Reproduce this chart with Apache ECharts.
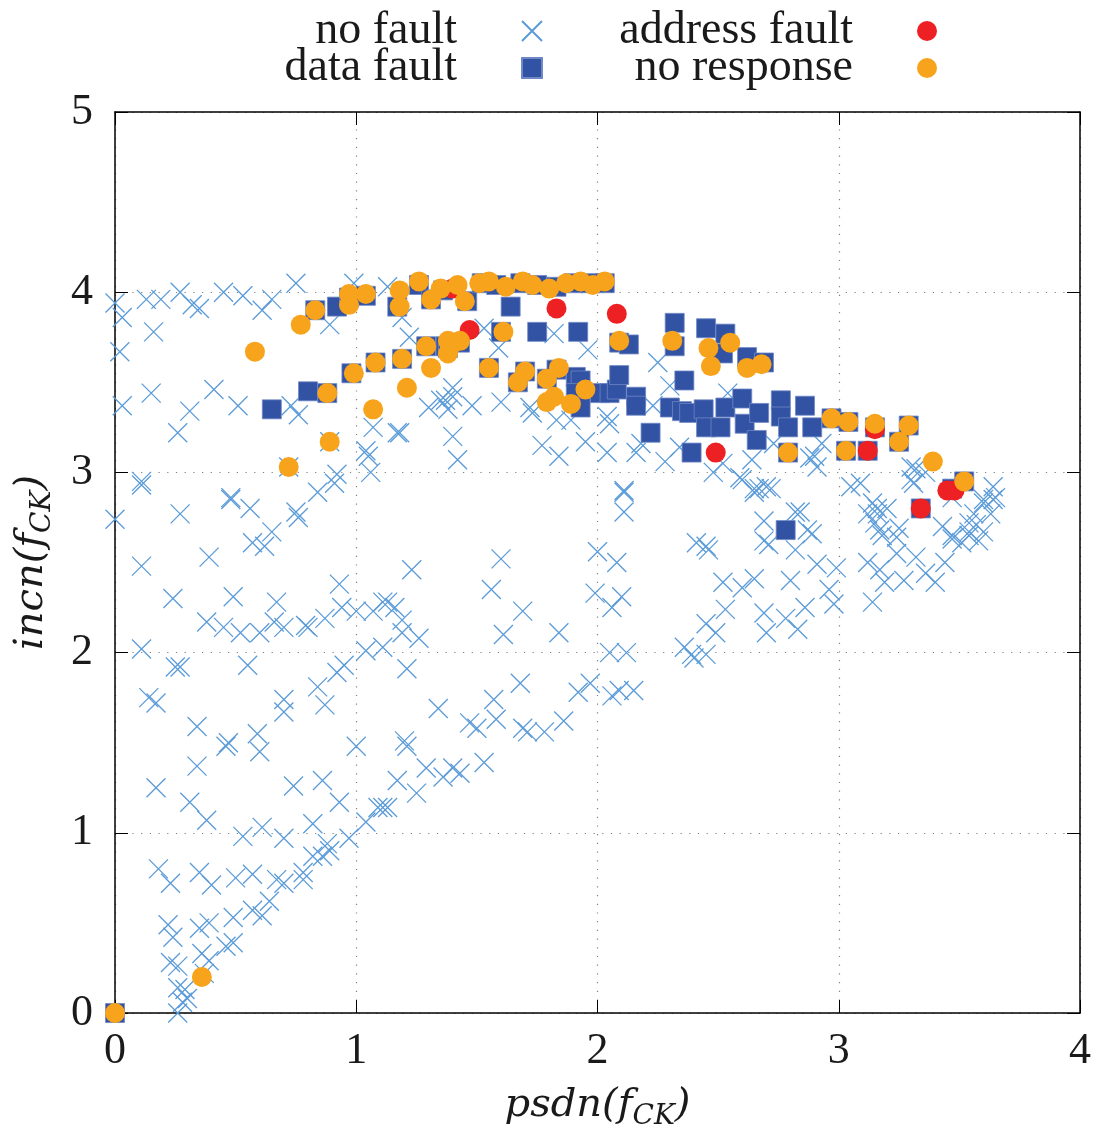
<!DOCTYPE html>
<html>
<head>
<meta charset="utf-8">
<script src="https://cdn.jsdelivr.net/npm/echarts@6/dist/echarts.min.js"></script>
<style>
  html, body { margin: 0; padding: 0; background: #ffffff; }
  #chart { width: 1093px; height: 1135px; }
</style>
</head>
<body>
<div id="chart"></div>
<script>
// Axis ticks
const xTicks = [0, 1, 2, 3, 4];
const yTicks = [0, 1, 2, 3, 4, 5];

// Series names (legend order)
const seriesNames = ['no fault', 'data fault', 'address fault', 'no response'];

// Measurements: [psdn, incn] in units of f_CK
const noFault = [
  [0.00,3.94],[0.03,3.86],[0.13,3.96],[0.19,3.96],[0.16,3.78],[0.27,4.00],[0.32,3.93],[0.35,3.91],
  [0.45,4.00],[0.53,3.98],[0.61,3.90],[0.65,3.96],[0.75,4.05],[0.02,3.67],[0.89,3.82],[0.99,4.05],
  [0.03,3.37],[0.15,3.44],[0.31,3.34],[0.41,3.46],[0.51,3.37],[0.26,3.22],[0.73,3.37],[0.76,3.32],
  [0.11,2.95],[0.72,3.03],[0.89,3.17],[0.92,2.99],[0.91,2.94],[0.84,2.89],[0.48,2.86],[1.07,3.25],
  [1.04,3.12],[1.05,3.09],[1.06,3.00],[1.17,3.22],[1.18,3.22],[1.22,3.75],[1.30,3.36],[1.35,3.40],
  [1.38,3.35],[1.13,4.03],[1.19,3.86],[1.53,3.80],[1.59,3.69],[1.82,3.77],[1.96,3.68],[2.25,3.61],
  [1.40,3.47],[1.37,3.40],[1.40,3.42],[1.48,3.37],[1.60,3.39],[1.72,3.36],[1.73,3.33],[1.83,3.29],
  [1.89,3.29],[2.04,3.31],[2.05,3.27],[1.40,3.20],[1.42,3.07],[1.77,3.15],[1.84,3.09],[1.95,3.17],
  [2.04,3.11],[2.16,3.11],[2.18,3.16],[2.28,3.06],[2.34,3.14],[2.52,3.05],[2.59,2.97],[2.64,3.07],
  [2.67,2.91],[2.73,3.16],[2.23,3.37],[2.30,3.48],[2.11,2.90],[2.54,3.44],[2.60,2.96],[2.70,2.92],
  [2.65,2.89],[2.90,3.09],[2.91,3.03],[2.93,3.16],[2.88,3.08],[2.48,3.00],[2.45,2.59],[2.69,2.62],
  [2.82,2.78],[2.87,2.68],[3.09,2.94],[3.14,2.83],[3.16,2.77],[3.17,2.68],[3.25,2.69],[3.30,3.03],
  [3.32,3.02],[3.36,3.00],[3.30,2.96],[3.64,2.92],[3.64,2.85],[3.43,2.70],[3.47,2.63],[3.56,2.77],
  [3.60,2.85],[3.54,2.67],[3.58,2.62],
  [0.00,2.74],[0.11,2.93],[0.27,2.77],[0.48,2.85],[0.56,2.80],[0.75,2.78],[0.76,2.75],[0.11,2.48],
  [0.39,2.53],[0.57,2.61],[0.62,2.59],[0.65,2.67],[0.24,2.30],[0.49,2.31],[0.67,2.28],[0.93,2.38],
  [1.23,2.46],[0.38,2.17],[0.45,2.14],[0.52,2.11],[0.60,2.11],[0.66,2.17],[0.70,2.14],[0.79,2.15],
  [0.80,2.14],[0.87,2.19],[0.94,2.25],[1.00,2.23],[1.07,2.23],[1.11,2.28],[1.13,2.28],[1.16,2.25],
  [1.19,2.18],[1.19,2.11],[1.26,2.08],[1.04,2.01],[1.11,2.03],[0.11,2.02],[0.25,1.92],[0.27,1.92],
  [0.55,1.93],[0.95,1.93],[0.92,1.89],[1.21,1.91],[0.14,1.75],[0.17,1.72],[0.84,1.81],[0.87,1.71],
  [0.70,1.74],[0.70,1.67],[1.34,1.69],[0.34,1.59],[0.47,1.50],[0.46,1.48],[0.59,1.55],[0.60,1.45],
  [1.00,1.48],[1.20,1.51],[1.21,1.48],
  [0.17,1.25],[0.34,1.37],[0.31,1.17],[0.38,1.07],[0.74,1.26],[0.86,1.29],[0.93,1.17],[0.82,1.05],
  [0.53,0.98],[0.61,1.03],[0.70,0.97],[0.88,0.94],[0.89,0.90],[0.86,0.87],[0.97,0.97],[1.04,1.06],
  [1.09,1.14],[1.11,1.14],[1.13,1.14],[1.17,1.29],[1.25,1.22],[1.29,1.36],[1.36,1.31],[1.40,1.36],
  [1.43,1.33],[1.53,1.39],[0.18,0.80],[0.23,0.72],[0.35,0.78],[0.40,0.71],[0.50,0.75],[0.57,0.77],
  [0.67,0.74],[0.70,0.72],[0.78,0.78],[0.78,0.74],[0.22,0.49],[0.24,0.42],[0.35,0.47],[0.39,0.50],
  [0.49,0.53],[0.57,0.57],[0.61,0.54],[0.64,0.62],[0.23,0.28],[0.26,0.26],[0.36,0.33],[0.39,0.29],
  [0.46,0.37],[0.49,0.39],[0.26,0.14],[0.29,0.13],[0.30,0.08],[0.28,0.06],[0.26,0.00],[0.37,0.22],
  [0.82,0.87],
  [1.57,1.74],[1.47,1.61],[1.50,1.58],[1.58,1.63],[1.69,1.58],[1.71,1.56],[1.78,1.56],[1.86,1.62],
  [1.92,1.78],[1.97,1.83],[2.06,1.76],[2.09,1.79],[2.15,1.79],[1.68,1.83],
  [2.11,2.89],[2.11,2.78],[1.60,2.52],[1.56,2.35],[1.69,2.23],[1.61,2.10],[1.84,2.11],[2.00,2.56],
  [2.08,2.50],[1.99,2.33],[2.06,2.25],[2.10,2.31],[2.05,2.00],[2.12,2.00],[2.41,2.61],[2.46,2.57],
  [2.52,2.39],[2.60,2.36],[2.65,2.41],[2.53,2.24],[2.45,2.16],[2.49,2.11],[2.36,2.03],[2.39,1.99],
  [2.45,1.99],[2.40,1.97],[2.69,2.73],[2.84,2.78],[2.71,2.60],[2.82,2.57],[2.89,2.66],[2.80,2.40],
  [2.91,2.49],[2.99,2.47],[2.96,2.35],[2.98,2.27],[2.69,2.22],[2.70,2.11],[2.78,2.19],[2.83,2.13],
  [2.86,2.25],[2.65,2.91],[2.72,2.91],[3.05,2.92],[3.12,2.77],[3.16,2.80],[3.20,2.80],[3.15,2.72],
  [3.18,2.65],[3.24,2.64],[3.12,2.50],[3.17,2.46],[3.19,2.39],[3.27,2.40],[3.32,2.53],[3.24,2.55],
  [3.14,2.28],[3.36,2.44],[3.40,2.39],[3.44,2.50],[3.47,2.65],[3.51,2.61],[3.54,2.65],[3.57,2.71],
  [3.60,2.67],[3.63,2.77],[3.65,2.86],[3.60,2.83],[3.54,2.72],[3.47,2.86],[3.31,2.94]
];

const dataFault = [
  [0.00,0.00],[0.65,3.35],[0.80,3.45],[0.92,3.92],[0.83,3.90],[0.88,3.44],[0.98,3.55],[1.08,3.61],
  [1.19,3.63],[1.29,3.70],[1.37,3.70],[0.97,3.97],[1.04,3.98],[1.17,3.92],[1.26,4.04],[1.31,3.96],
  [1.36,4.01],[1.46,3.95],[1.52,4.05],[1.58,4.04],[1.64,3.92],[1.68,4.05],[1.75,4.04],[1.83,4.03],
  [1.90,4.05],[1.97,4.05],[2.03,4.05],[1.75,3.78],[1.92,3.78],[2.09,3.72],[2.13,3.71],[1.60,3.78],
  [1.43,3.72],[1.38,3.69],[1.55,3.58],[1.67,3.50],[1.70,3.56],[1.79,3.52],[1.83,3.57],[1.91,3.53],
  [1.93,3.51],[1.91,3.44],[1.93,3.36],[2.01,3.44],[2.05,3.44],[2.08,3.46],[2.09,3.54],[2.16,3.42],
  [2.16,3.37],[2.22,3.22],[2.30,3.36],[2.35,3.34],[2.38,3.33],[2.36,3.51],[2.39,3.11],[2.32,3.83],
  [2.32,3.70],[2.45,3.80],[2.53,3.77],[2.52,3.66],[2.62,3.64],[2.69,3.61],[2.44,3.35],[2.45,3.25],
  [2.51,3.25],[2.53,3.36],[2.60,3.41],[2.61,3.27],[2.66,3.18],[2.67,3.33],[2.76,3.40],[2.76,3.31],
  [2.79,3.25],[2.86,3.37],[2.89,3.25],[2.78,2.68],[2.79,3.11],[2.97,3.30],[3.04,3.28],[3.03,3.12],
  [3.12,3.12],[3.15,3.25],[3.29,3.26],[3.25,3.17],[3.34,2.80],[3.47,2.91],[3.52,2.95]
];

const addressFault = [
  [1.40,4.02],[1.47,3.79],[1.83,3.91],[2.08,3.88],[2.49,3.11],[3.12,3.12],[3.15,3.24],[3.34,2.80],
  [3.45,2.90],[3.48,2.90]
];

const noResponse = [
  [0.00,0.00],[0.36,0.20],[0.58,3.67],[0.72,3.03],[0.77,3.82],[0.83,3.90],[0.88,3.44],[0.89,3.17],
  [0.97,3.99],[0.97,3.93],[1.04,3.99],[0.99,3.55],[1.08,3.61],[1.07,3.35],[1.18,4.01],[1.18,3.92],
  [1.19,3.63],[1.21,3.47],[1.26,4.06],[1.29,3.70],[1.31,3.96],[1.31,3.58],[1.35,4.02],[1.38,3.73],
  [1.39,3.70],[1.38,3.66],[1.43,3.73],[1.42,4.04],[1.45,3.95],[1.51,4.05],[1.55,4.06],[1.55,3.58],
  [1.61,3.78],[1.62,4.03],[1.67,3.50],[1.69,4.06],[1.70,3.56],[1.73,4.04],[1.79,3.52],[1.79,3.39],
  [1.80,4.02],[1.82,3.42],[1.84,3.58],[1.87,4.05],[1.89,3.38],[1.93,4.06],[1.95,3.46],[1.98,4.04],
  [2.03,4.06],[2.09,3.73],[2.31,3.73],[2.46,3.69],[2.47,3.59],[2.55,3.72],[2.62,3.58],[2.68,3.60],
  [2.79,3.11],[2.97,3.30],[3.04,3.28],[3.03,3.12],[3.15,3.27],[3.25,3.17],[3.29,3.26],[3.39,3.06],
  [3.52,2.95]
];

const SERIF = '"Liberation Serif", "DejaVu Serif", serif';
const MATH = '"DejaVu Serif", "Liberation Serif", serif';
const INK = '#1a1a1a';
const crossPath = 'path://M0,0L20,20M20,0L0,20';

function legendItem(name, right, top, gap) {
  return {
    data: [name],
    right: right,
    top: top,
    align: 'right',
    padding: 0,
    itemWidth: 20,
    itemHeight: 20,
    selectedMode: false,
    formatter: n => '{t|' + n + '}',
    textStyle: {
      rich: {
        t: { fontFamily: SERIF, fontSize: 46, color: INK, lineHeight: 46, padding: [0, gap, 0, 0] }
      }
    }
  };
}

function axisCommon() {
  return {
    type: 'value',
    axisLine: { show: true, onZero: false, lineStyle: { color: '#000', width: 1.5 } },
    axisTick: { show: true, inside: true, length: 13, lineStyle: { color: '#000', width: 1 } },
    splitLine: { show: false },
    axisLabel: { show: false }
  };
}

function mathName(fontSize, subSize, drop) {
  return {
    rich: {
      m: { fontFamily: MATH, fontStyle: 'italic', fontSize: fontSize, color: INK },
      s: { fontFamily: MATH, fontStyle: 'italic', fontSize: subSize, color: INK, padding: [drop, 0, 0, 0] }
    }
  };
}

const chart = echarts.init(document.getElementById('chart'), null, { renderer: 'canvas' });

const option = {
  backgroundColor: '#ffffff',
  animation: false,
  legend: [
    legendItem(seriesNames[0], 550, 8, 60),
    legendItem(seriesNames[2], 156, 8, 59),
    legendItem(seriesNames[1], 550, 45, 60),
    legendItem(seriesNames[3], 156, 45, 59)
  ],
  grid: { left: 115, right: 13, top: 112, bottom: 122, containLabel: false, outerBoundsMode: 'none' },
  xAxis: [
    Object.assign(axisCommon(), {
      position: 'bottom',
      min: xTicks[0], max: xTicks[xTicks.length - 1], interval: 1,
      splitLine: { show: true, lineStyle: { color: '#808080', width: 1.2, type: [1.2, 7.5] } },
      axisLabel: { show: true, fontFamily: SERIF, fontSize: 44, color: INK, margin: 16 },
      name: '{m|psdn(f}{s|CK}{m|)}',
      nameLocation: 'middle',
      nameGap: 68,
      nameTextStyle: mathName(40, 28, 22)
    }),
    Object.assign(axisCommon(), {
      position: 'top',
      min: xTicks[0], max: xTicks[xTicks.length - 1], interval: 1
    })
  ],
  yAxis: [
    Object.assign(axisCommon(), {
      position: 'left',
      min: yTicks[0], max: yTicks[yTicks.length - 1], interval: 1,
      splitLine: { show: true, lineStyle: { color: '#808080', width: 1.2, type: [1.2, 7.5] } },
      axisLabel: { show: true, fontFamily: SERIF, fontSize: 44, color: INK, margin: 22 },
      name: '{m|incn(f}{s|CK}{m|)}',
      nameLocation: 'middle',
      nameGap: 58,
      nameRotate: 90,
      nameTextStyle: mathName(40, 28, 22)
    }),
    Object.assign(axisCommon(), {
      position: 'right',
      min: yTicks[0], max: yTicks[yTicks.length - 1], interval: 1
    })
  ],
  series: [
    {
      name: seriesNames[0],
      type: 'scatter',
      data: noFault,
      symbol: crossPath,
      symbolSize: 19,
      itemStyle: { color: 'rgba(0,0,0,0)', borderColor: '#5b9bd8', borderWidth: 1.3, opacity: 1 },
      emphasis: { disabled: true }
    },
    {
      name: seriesNames[1],
      type: 'scatter',
      data: dataFault,
      symbol: 'rect',
      symbolSize: 19,
      itemStyle: { color: '#3252a3', borderColor: '#6f88c6', borderWidth: 0.8, opacity: 1 },
      emphasis: { disabled: true }
    },
    {
      name: seriesNames[2],
      type: 'scatter',
      data: addressFault,
      symbol: 'circle',
      symbolSize: 20,
      itemStyle: { color: '#ed2024', opacity: 1 },
      emphasis: { disabled: true }
    },
    {
      name: seriesNames[3],
      type: 'scatter',
      data: noResponse,
      symbol: 'circle',
      symbolSize: 20,
      itemStyle: { color: '#f7a31c', opacity: 1 },
      emphasis: { disabled: true }
    }
  ]
};

chart.setOption(option);
</script>
</body>
</html>
